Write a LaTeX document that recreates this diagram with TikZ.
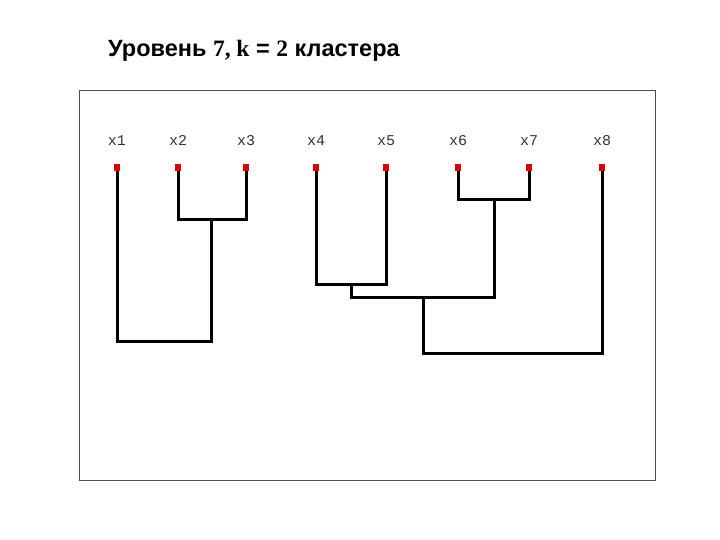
\documentclass[tikz,border=0pt]{standalone}
\usepackage{fontspec}
\setmainfont{Liberation Serif}
\setsansfont{Liberation Sans}
\setmonofont{Liberation Mono}
\usetikzlibrary{positioning}

\tikzset{
	leaf/.style={draw=none, fill=red!85!black, minimum width=6pt, minimum height=7pt, inner sep=0pt},
	leaflabel/.style={font=\ttfamily\fontsize{15}{15}\selectfont, text=black!80, anchor=base},
	branch/.style={line width=3pt, line cap=rect}
}

\begin{document}
\begin{tikzpicture}[x=1pt, y=-1pt]
	\useasboundingbox (0,0) rectangle (720,540);
	\fill [white] (0,0) rectangle (720,540);

	\node [anchor=base west, inner sep=0pt] (title) at (108,57)
		{\sffamily\bfseries\fontsize{23.5}{24}\selectfont Уровень {\rmfamily 7, k} = {\rmfamily 2} кластера};

	\draw [black!70, line width=0.8pt] (79,90) rectangle (655,480);

	% leaves
	\foreach \i/\x in {1/117, 2/178, 3/246, 4/316, 5/386, 6/458, 7/529, 8/602} {
		\node [leaflabel] (t\i) at (\x,146) {x\i};
		\coordinate (p\i) at (\x,168);
	}

	% joins
	\coordinate (j23) at (211,220);
	\coordinate (j123) at (211,341);
	\coordinate (j45) at (351,284);
	\coordinate (j67) at (494,200);
	\coordinate (j4567) at (423,297);
	\coordinate (j45678) at (423,353);

	\draw [branch] (p2) -- (p2 |- j23) -- (p3 |- j23) -- (p3);
	\draw [branch] (j23) -- (j123);
	\draw [branch] (p1) -- (p1 |- j123) -- (j123);
	\draw [branch] (p4) -- (p4 |- j45) -- (p5 |- j45) -- (p5);
	\draw [branch] (p6) -- (p6 |- j67) -- (p7 |- j67) -- (p7);
	\draw [branch] (j45) -- (j45 |- j4567) -- (j67 |- j4567) -- (j67);
	\draw [branch] (j4567) -- (j45678) -- (p8 |- j45678) -- (p8);

	\foreach \i in {1,...,8}
		\node [leaf] (l\i) at (p\i) {};
\end{tikzpicture}
\end{document}
